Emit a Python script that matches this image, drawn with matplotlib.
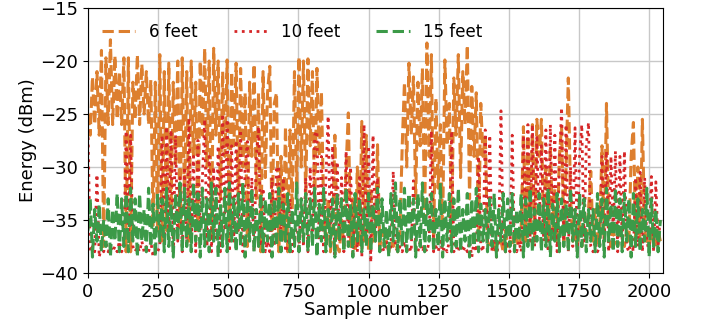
import matplotlib
matplotlib.use("Agg")
import matplotlib.pyplot as plt
import numpy as np

step = 8
feet6 = [
    -25, -27, -21.5, -26, -21, -27, -19, -37.5, -19.7, -26, -18, -26, -19.5, -25.5, -21, -26,
    -19.7, -38, -19.7, -38, -22, -25.5, -19.4, -26, -20.3, -25, -21, -26, -21.8, -35.5, -22, -36,
    -19.4, -37, -21, -36, -20.2, -34, -22, -30, -20, -36, -19.7, -33, -21, -37, -20, -29,
    -22, -36, -20, -27, -18.8, -30, -20, -37, -18.8, -27, -20, -33, -21, -29, -19.9, -37,
    -21, -28, -20.2, -34, -20.7, -30, -23, -37.5, -22, -29, -20.3, -33, -23, -38, -21, -31,
    -23, -20.5, -36, -24, -23, -38, -29, -37, -26.2, -38, -26.5, -34, -21, -32, -19.6, -30,
    -20, -33, -19.8, -28, -21, -34, -20.7, -29, -22.9, -34, -37, -33, -38, -36, -27, -37.5,
    -38, -35, -37.5, -30, -24.9, -37.5, -33, -38, -30, -37.5, -25.7, -37, -27, -38, -32, -37,
    -36, -27.9, -37.5, -36, -37.5, -37, -38, -37, -37.5, -37, -38, -36, -28, -22, -30, -20.2,
    -27, -21.5, -33, -22, -28, -20.7, -35, -18.3, -29, -19.4, -37, -23.5, -32, -26, -36, -19.9,
    -28, -24, -37, -21.6, -27, -19.4, -31, -21, -26, -18.5, -33, -22.4, -29, -23, -37, -24,
    -29, -27, -37, -37.5, -37, -38, -37, -37.5, -37, -38, -36, -37.5, -37, -37.5, -36, -37,
    -37.5, -36, -26.2, -37, -27, -36, -26, -37, -25.5, -29, -25.5, -36, -30, -37, -28, -36,
    -32, -37, -29, -26.2, -37, -30, -21.6, -33, -37, -36, -37.5, -35, -37.5, -36, -37, -34,
    -30.4, -37, -34, -37.5, -36, -28, -37, -24, -35, -37.5, -36, -37, -37.5, -36, -37, -37.5,
    -36, -37, -29, -25.8, -37, -30, -37.5, -25.5, -36, -37, -37.5, -36, -37, -37.5, -36, -37,
]
feet10 = [
    -26.5, -38, -37.5, -38, -30.7, -38.5, -37.5, -38, -37, -38, -37.5, -38, -37.5, -38, -37, -38,
    -37.5, -26.6, -37, -27, -37.5, -38, -37.5, -38, -37, -38, -37.5, -38, -37, -38.5, -37.5, -38,
    -37.5, -27, -37, -26.2, -36, -26.5, -38, -27, -37, -31, -38, -30, -37.5, -25.4, -37, -29,
    -38, -27.5, -36, -31, -25.5, -37.5, -29, -38, -30, -37, -28, -38, -25, -36, -25.5, -38,
    -28, -37, -27.5, -36, -26.5, -38, -30, -27.6, -37, -31, -38, -29, -26.2, -37.5, -32, -38,
    -37, -38, -31, -37.5, -30, -30, -37, -31, -38, -37.5, -33, -38, -37, -35, -38, -33,
    -37.5, -31, -38, -30, -37, -27, -26.6, -37, -29, -38, -31, -25.2, -37, -28, -38.5, -29.5,
    -37, -31, -38, -28.5, -37.5, -30, -38.5, -33, -38, -31, -38.5, -26, -37, -28, -39, -27,
    -37, -31, -38, -37.5, -38, -37, -38, -37.5, -30.4, -37.5, -38, -37.5, -38, -37, -38, -37.5,
    -38, -31.3, -37.5, -38, -37, -38, -37.5, -38, -37, -26.6, -38, -37.5, -38, -37, -38, -37.5,
    -38, -37, -26.6, -38, -37.5, -38, -37, -38, -37.5, -38, -37, -38.5, -37, -38, -29, -37.5,
    -38, -26.5, -37, -27, -38, -37, -38.5, -37, -24.7, -37.5, -38, -37, -38, -27, -37.5, -38,
    -37, -38, -27, -36, -26, -37, -26, -37.5, -27, -36, -28, -37, -26.5, -38, -26, -37,
    -27, -38, -30, -24.4, -37, -26, -38, -30, -37.5, -26.3, -38, -29, -26, -37, -28, -25.8,
    -37.5, -38, -37, -38, -37.5, -29, -37, -28.5, -38, -29, -36, -28.5, -38, -29, -37, -28.5,
    -37.5, -38, -37, -38, -31, -37.5, -30.5, -38, -31, -37, -38, -30.9, -38, -31.4, -37.5, -34.6,
]
feet15 = [
    -36, -33, -38.5, -34, -37, -33.5, -38, -35, -37.5, -33, -38.5, -34, -37, -32.5, -38, -33,
    -37.5, -32.5, -38, -32, -37, -33, -38.5, -32.5, -37, -34, -38, -32, -37.5, -33.5, -38.5, -32.5,
    -37, -33, -38, -32, -37.5, -33.5, -38.5, -32.5, -37, -31.5, -38, -32, -37.5, -33, -38, -31.5,
    -37, -32.5, -38.5, -32, -37.5, -33, -38, -31.5, -37, -32, -38.5, -33.5, -37.5, -32, -38, -31.5,
    -37, -33, -38, -32.5, -37.5, -31.5, -38.5, -33, -37, -32, -38, -34, -37.5, -32.5, -38, -33,
    -37, -32.5, -38.5, -33, -37.5, -32, -38, -33.5, -37, -32.5, -38, -34, -37.5, -31.5, -38, -33,
    -37, -32.5, -38, -33, -37.5, -32, -38.5, -33.5, -37, -32, -38, -34, -37.5, -33, -38.5, -32.5,
    -37, -33, -38, -32, -37.5, -33.5, -38.5, -32.5, -37, -33, -38, -34, -37.5, -32.5, -38, -33.5,
    -37, -32, -38, -33, -37.5, -34, -38.5, -32.5, -37, -31.5, -38, -33, -37.5, -32, -38, -32.5,
    -37, -33, -38.5, -32.5, -37.5, -31.5, -38, -33, -37, -32.5, -38, -34, -37.5, -31.5, -38.5, -33,
    -37, -32.5, -38, -33, -37.5, -32, -38, -34, -37, -32.5, -38.5, -33, -37.5, -32, -38, -33.5,
    -37, -34, -38, -33, -37.5, -32.5, -38.5, -34, -37, -32.5, -38, -33, -37.5, -32.5, -38, -34,
    -37, -32.5, -38.5, -33, -37.5, -32, -38, -34, -37, -32.5, -38, -33, -37.5, -32, -38.5, -33.5,
    -37, -32.5, -38, -33, -37.5, -33.5, -38, -32, -37, -34, -38.5, -32.5, -37.5, -33, -38, -34,
    -37, -34, -38, -32.5, -37.5, -33, -38.5, -32, -37, -33.5, -38, -32, -37.5, -33, -38, -32.5,
    -37, -33, -38.5, -32.5, -37.5, -33, -38, -34, -37, -32, -38.5, -33, -37.5, -34, -38, -35,
]
labels = ["6 feet", "10 feet", "15 feet"]
xticks = [0, 250, 500, 750, 1000, 1250, 1500, 1750, 2000]
yticks = [-40, -35, -30, -25, -20, -15]

fig = plt.figure(figsize=(7.01, 3.26), dpi=100)
ax = fig.add_axes([0.1255, 0.1626, 0.8205, 0.8129])

x6 = np.arange(len(feet6)) * step
x10 = np.arange(len(feet10)) * step
x15 = np.arange(len(feet15)) * step
ax.plot(x6, feet6, linestyle="--", color="#dd7f2f", lw=2.2, label=labels[0])
ax.plot(x10, feet10, linestyle=":", color="#d62728", lw=2.0, label=labels[1])
ax.plot(x15, feet15, linestyle="--", color="#3c9a48", lw=2.2, label=labels[2])

ax.set_xlim(0, 2050)
ax.set_ylim(-40, -15)
ax.set_xticks(xticks)
ax.set_yticks(yticks)
ax.grid(True, color="#c8c8c8", lw=1)
ax.set_axisbelow(True)
ax.tick_params(labelsize=13)
ax.set_xlabel("Sample number", fontsize=13, labelpad=0)
ax.set_ylabel("Energy (dBm)", fontsize=13, labelpad=2)
ax.legend(loc="upper center", ncol=3, frameon=False, fontsize=12,
          bbox_to_anchor=(0.355, 1.0), columnspacing=2.2, handlelength=2.0)

fig.savefig("out.png", dpi=100)
